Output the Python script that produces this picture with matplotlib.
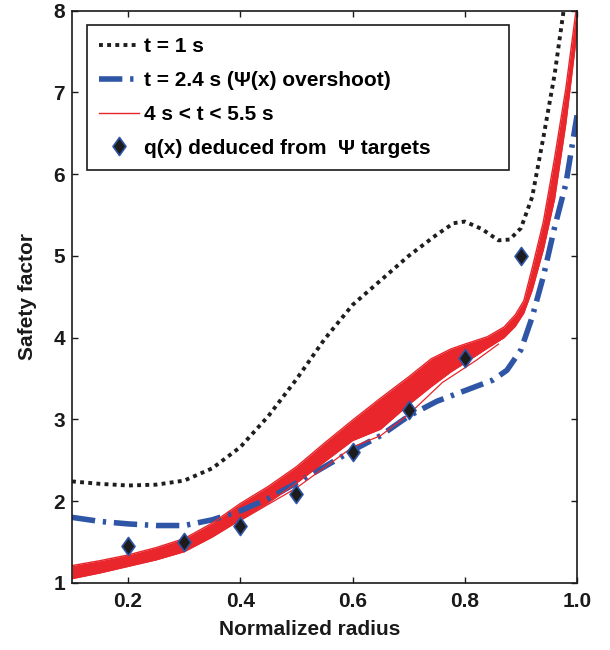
import matplotlib
matplotlib.use("Agg")
import matplotlib.pyplot as plt
from matplotlib.path import Path

plt.rcParams['font.family'] = ['Liberation Sans', 'DejaVu Sans']
plt.rcParams['font.weight'] = 'bold'
plt.rcParams['axes.labelweight'] = 'bold'

# q profile at t = 1 s
x_t1 = [0.10, 0.15, 0.20, 0.25, 0.30, 0.35, 0.40, 0.45, 0.50, 0.55, 0.60, 0.65,
        0.70, 0.75, 0.78, 0.80, 0.83, 0.86, 0.88, 0.90, 0.92, 0.94, 0.96, 0.975, 0.99]
q_t1 = [2.24, 2.21, 2.19, 2.20, 2.25, 2.40, 2.66, 3.04, 3.49, 3.98, 4.40, 4.70,
        5.00, 5.26, 5.40, 5.42, 5.33, 5.19, 5.20, 5.34, 5.72, 6.45, 7.22, 7.95, 8.70]

# q profile at t = 2.4 s (overshoot)
x_t24 = [0.10, 0.15, 0.20, 0.25, 0.30, 0.35, 0.40, 0.45, 0.50, 0.55, 0.60, 0.65,
         0.70, 0.75, 0.80, 0.85, 0.875, 0.90, 0.92, 0.94, 0.96, 0.98, 1.00]
q_t24 = [1.80, 1.75, 1.72, 1.70, 1.70, 1.77, 1.88, 2.03, 2.22, 2.42, 2.62, 2.80,
         3.04, 3.22, 3.35, 3.48, 3.60, 3.85, 4.25, 4.75, 5.35, 5.88, 6.72]

# envelope of the profiles for 4 s < t < 5.5 s
x_band = [0.10, 0.15, 0.20, 0.25, 0.30, 0.35, 0.40, 0.45, 0.50, 0.55, 0.60, 0.65,
          0.70, 0.74, 0.775, 0.80, 0.84, 0.87, 0.89, 0.905, 0.92, 0.94, 0.96, 0.98, 1.00]
q_band_hi = [1.21, 1.27, 1.34, 1.43, 1.54, 1.73, 1.97, 2.18, 2.42, 2.71, 2.99, 3.26,
             3.52, 3.74, 3.86, 3.92, 4.01, 4.13, 4.28, 4.45, 4.85, 5.42, 6.20, 7.05, 8.10]
q_band_lo = [1.05, 1.12, 1.20, 1.28, 1.38, 1.56, 1.77, 1.98, 2.22, 2.48, 2.74, 2.88,
             3.18, 3.40, 3.58, 3.69, 3.87, 4.00, 4.14, 4.30, 4.58, 5.08, 5.70, 6.62, 7.75]
# a few profiles that run below the bulk of the envelope
x_low = [0.40, 0.50, 0.60, 0.65, 0.70, 0.76, 0.82, 0.86]
q_low = [1.76, 2.16, 2.66, 2.80, 3.06, 3.45, 3.72, 3.92]

# q(x) deduced from the Psi targets
x_target = [0.2, 0.3, 0.4, 0.5, 0.6, 0.7, 0.8, 0.9]
q_target = [1.45, 1.50, 1.69, 2.09, 2.60, 3.11, 3.75, 5.00]

red = '#e8262b'
blue = '#2f56a6'
ink = '#1a1a1a'

fig = plt.figure(figsize=(6.1, 6.5), dpi=100)
ax = fig.add_axes([0.118, 0.1035, 0.828, 0.88])

ax.plot(x_t1, q_t1, color='#1e1e1e', lw=2.8, linestyle=(0, (1, 1.1)),
        label='t = 1 s')
ax.plot(x_t24, q_t24, color=blue, lw=4, linestyle=(0, (4.2, 1.4, 0.6, 1.4)),
        label='t = 2.4 s (Ψ(x) overshoot)')
ax.fill_between(x_band, q_band_lo, q_band_hi, color=red, lw=0)
ax.plot(x_band, q_band_hi, color=red, lw=1.0)
ax.plot(x_band, q_band_lo, color=red, lw=1.0, label='4 s < t < 5.5 s')
ax.plot(x_low, q_low, color=red, lw=0.9)

diamond = Path([(0, 1), (0.72, 0), (0, -1), (-0.72, 0), (0, 1)],
               [Path.MOVETO, Path.LINETO, Path.LINETO, Path.LINETO, Path.CLOSEPOLY])
ax.plot(x_target, q_target, linestyle='none', marker=diamond, markersize=13,
        markerfacecolor='#1c1c1c', markeredgecolor=blue, markeredgewidth=1.2,
        label='q(x) deduced from  Ψ targets')

ax.set_xlim(0.1, 1.0)
ax.set_ylim(1, 8)
ax.set_xticks([0.2, 0.4, 0.6, 0.8, 1.0])
ax.set_xticklabels(['0.2', '0.4', '0.6', '0.8', '1.0'])
ax.set_yticks(range(1, 9))
ax.tick_params(direction='in', top=True, right=True, length=4, width=1,
               labelsize=15, colors=ink)
ax.tick_params(axis='x', pad=7)
ax.tick_params(axis='y', pad=5)
for s in ax.spines.values():
    s.set_linewidth(1.2)
    s.set_color(ink)

ax.set_xlabel('Normalized radius', fontsize=15, labelpad=6, color=ink)
ax.xaxis.label.set_x(0.471)
ax.set_ylabel('Safety factor', fontsize=15, labelpad=12, color=ink)

leg = ax.legend(loc='upper left', bbox_to_anchor=(0.029, 0.0, 0.836, 0.975),
                mode='expand', borderaxespad=0,
                fontsize=15, frameon=True, fancybox=False, framealpha=1,
                edgecolor=ink, handlelength=1.9, handletextpad=0.25,
                labelspacing=0.71, borderpad=0.59, numpoints=1)
leg.get_frame().set_linewidth(1.2)

fig.savefig('out.png', dpi=100)
